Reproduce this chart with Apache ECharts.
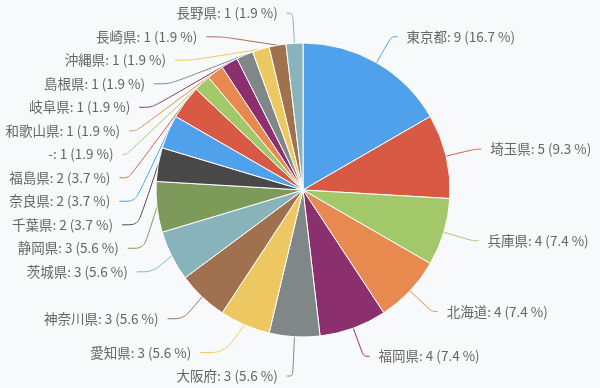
<!DOCTYPE html>
<html><head><meta charset="utf-8">
<script src="https://cdn.jsdelivr.net/npm/echarts@6/dist/echarts.min.js"></script>
<style>html,body{margin:0;padding:0;background:#f8f9fb}#c{width:600px;height:388px}</style>
</head><body><div id="c"></div>
<script>
const names = ['東京都','埼玉県','兵庫県','北海道','福岡県','大阪府','愛知県','神奈川県','茨城県','静岡県','千葉県','奈良県','福島県','-','和歌山県','岐阜県','島根県','沖縄県','長崎県','長野県'];
const values = [9,5,4,4,4,3,3,3,3,3,2,2,2,1,1,1,1,1,1,1];
const palette = ['#4ea1ea','#d95a44','#a3c86a','#e88a50','#8b2f6f','#7f8788','#edc862','#a0714e','#88b3ba','#7e9a5b','#484848'];
const total = values.reduce((a,b)=>a+b,0);
const chart = echarts.init(document.getElementById('c'), null, {renderer:'canvas'});
chart.setOption({
  backgroundColor:'#f8f9fb',
  color: palette,
  animation:false,
  series:[{
    type:'pie',
    center:[303,190],
    radius:[0,147],
    startAngle:90,
    data: names.map((n,i)=>{
      const d = {name:n,value:values[i]};
      if (i === 6) d.labelLine = {length2:24};
      else if (i >= 7 && i <= 18) d.labelLine = {length2:16};
      return d;
    }),
    itemStyle:{borderColor:'#ffffff',borderWidth:1},
    label:{formatter:p=>p.name+': '+p.value+' ('+(p.value/total*100).toFixed(1)+' %)',overflow:'none',color:'#666666',fontSize:13.5,lineHeight:21.5,distanceToLabelLine:9,fontFamily:'"Noto Sans CJK JP", "Noto Sans", sans-serif'},
    labelLine:{length:30,length2:6,smooth:true}
  }]
});
</script></body></html>
